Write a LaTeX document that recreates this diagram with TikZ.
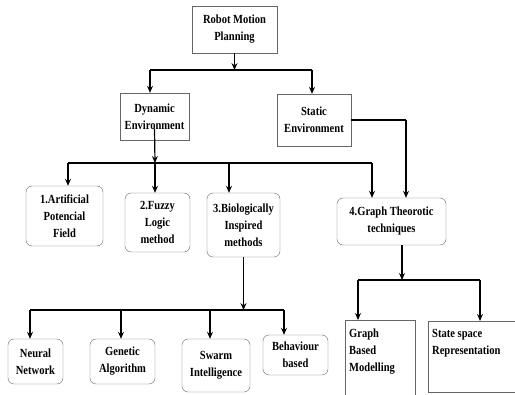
\documentclass[tikz,border=0pt]{standalone}
\usepackage{fontspec}
\setmainfont{Liberation Serif}[FakeStretch=0.85]
\usepackage{tikz}
\usetikzlibrary{positioning}
\usetikzlibrary{shapes,arrows,arrows.meta}
\tikzstyle{block} = [rectangle, draw=black!60, rounded corners=6pt, align=center,
inner sep=0pt, font=\bfseries\fontsize{12.4}{17}\selectfont]
\tikzstyle{plain} = [rectangle, draw=black!60, align=center,
inner sep=0pt, font=\bfseries\fontsize{12.4}{17}\selectfont]
\tikzstyle{line} = [draw, -{Stealth[length=7pt,width=6pt,inset=2.5pt]}, line width=1.2pt]
\tikzstyle{bar} = [draw, line width=2.8pt]

\begin{document}
\begin{tikzpicture}[x=1pt, y=-1pt]
  \useasboundingbox (0,0) rectangle (515,395);
  \clip (0,0) rectangle (515,395);

          % Place nodes
    \node [plain, minimum width=85pt, minimum height=47pt] (rmp) at (234.5,29.5) {Robot Motion\\Planning};
    \node [plain, minimum width=69pt, minimum height=47pt] (dyn) at (154.5,116.5) {Dynamic\\Environment};
    \node [plain, minimum width=74pt, minimum height=52pt] (stat) at (314,120) {Static\\Environment};
    \node [block, minimum width=77pt, minimum height=60pt] (apf) at (64.5,216) {1.Artificial\\Potencial\\Field};
    \node [block, minimum width=65pt, minimum height=59pt] (flm) at (157.5,222.5) {2.Fuzzy\\Logic\\method};
    \node [block, minimum width=73pt, minimum height=64pt] (bim) at (243.5,225) {3.Biologically\\Inspired\\methods};
    \node [block, minimum width=109pt, minimum height=47pt] (gtt) at (391.5,221.5) {4.Graph Theorotic\\techniques};
    \node [block, minimum width=55pt, minimum height=45pt] (nn) at (35.5,361.5) {Neural\\Network};
    \node [block, minimum width=65pt, minimum height=45pt] (ga) at (122.5,361.5) {Genetic\\Algorithm};
    \node [block, minimum width=68pt, minimum height=53pt] (si) at (216,365.5) {Swarm\\Intelligence};
    \node [block, minimum width=65pt, minimum height=40pt] (bb) at (295.5,355) {Behaviour\\based};
    \node [plain, anchor=north west, inner xsep=4pt] (gbm) at (345,320)
      {\parbox[c][80pt][t]{62pt}{\vspace{9pt}\raggedright Graph\\Based\\Modelling}};
    \node [plain, anchor=north west, inner xsep=4pt] (ssr) at (428,321)
      {\parbox[c][71pt][t]{84pt}{\vspace{8pt}\raggedright State space\\Representation}};
    % junctions
    \coordinate (t1) at (150,70);
    \coordinate (t2) at (312,70);
    \coordinate (s1) at (406,120);
    \coordinate (m0) at (155,163);
    \coordinate (m1) at (68,163);
    \coordinate (m2) at (372,163);
    \coordinate (m3) at (229,163);
    \coordinate (n1) at (30,310);
    \coordinate (n2) at (284,310);
    \coordinate (n3) at (121,310);
    \coordinate (n4) at (210,310);
    \coordinate (g0) at (402,280);
    \coordinate (g1) at (358,280);
    \coordinate (g2) at (480,280);
    % edges
         \path [line] (rmp) -- (rmp |- t1);
         \path [bar] (t1) -- (t2);
         \path [line] (t1) -- (t1 |- dyn.north);
         \path [line] (t2) -- (t2 |- stat.north);
         \path [bar] (stat.east) -- (s1);
         \path [line] (s1) -- (s1 |- gtt.north);
         \path [line] ([yshift=-12pt]dyn.center) -- (m0);
         \path [bar] (m1) -- (m2);
         \path [line] (m1) -- (m1 |- apf.north);
         \path [line] (m0) -- (m0 |- flm.north);
         \path [line] (m3) -- (m3 |- bim.north);
         \path [line] (m2) -- (m2 |- gtt.north);
         \path [line] (bim.south) -- (bim.south |- n1);
         \path [bar] (n1) -- (n2);
         \path [line] (n1) -- (n1 |- nn.north);
         \path [line] (n3) -- (n3 |- ga.north);
         \path [line] (n4) -- (n4 |- si.north);
         \path [line] (n2) -- (n2 |- bb.north);
         \path [line] (g0 |- gtt.south) -- (g0);
         \path [bar] (g1) -- (g2);
         \path [line] (g1) -- (g1 |- gbm.north);
         \path [line] (g2) -- (g2 |- ssr.north);
  \end{tikzpicture}
\end{document}
